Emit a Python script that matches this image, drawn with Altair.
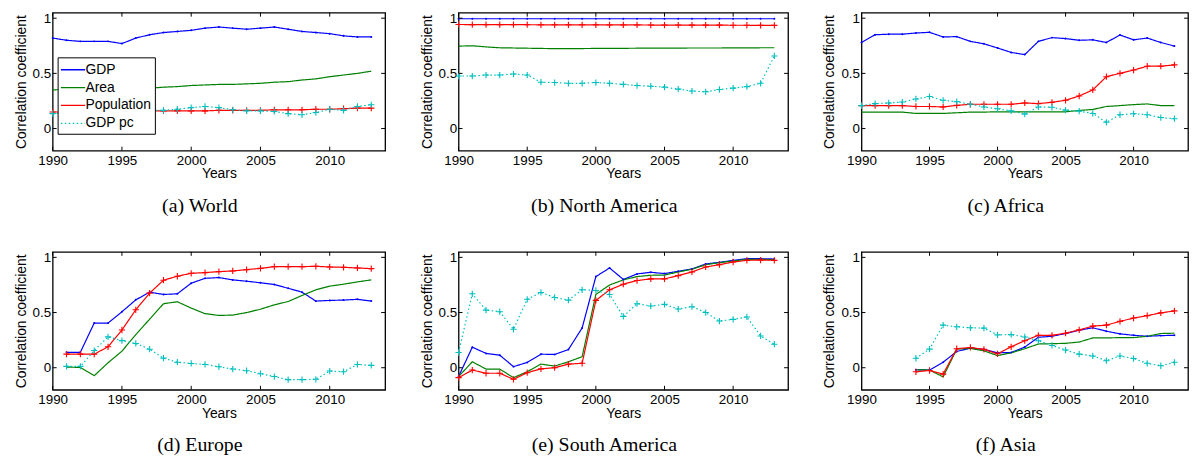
import altair as alt
import pandas as pd

# ---------------- data ----------------
series_names = ["GDP", "Area", "Population", "GDP pc"]
series_colors = ["#0000FF", "#008000", "#FF0000", "#00BFBF"]

years_full = list(range(1990, 2014))
years_europe = list(range(1991, 2014))
years_asia = list(range(1994, 2014))

world_gdp = [0.82, 0.80, 0.79, 0.79, 0.79, 0.77, 0.82, 0.85, 0.87, 0.88, 0.89, 0.91, 0.92, 0.91, 0.90, 0.91, 0.92, 0.90, 0.88, 0.87, 0.86, 0.84, 0.83, 0.83]
world_area = [0.35, 0.355, 0.355, 0.36, 0.36, 0.36, 0.365, 0.365, 0.375, 0.38, 0.39, 0.395, 0.40, 0.40, 0.405, 0.41, 0.42, 0.425, 0.44, 0.45, 0.47, 0.485, 0.50, 0.52]
world_pop = [0.15, 0.15, 0.15, 0.15, 0.155, 0.155, 0.155, 0.16, 0.16, 0.16, 0.16, 0.16, 0.165, 0.165, 0.165, 0.165, 0.17, 0.17, 0.17, 0.175, 0.175, 0.18, 0.185, 0.185]
world_gdppc = [0.135, 0.14, 0.15, 0.15, 0.16, 0.16, 0.16, 0.165, 0.165, 0.175, 0.19, 0.20, 0.19, 0.17, 0.16, 0.16, 0.155, 0.135, 0.125, 0.145, 0.175, 0.165, 0.20, 0.215]

na_gdp = [0.995, 0.995, 0.995, 0.995, 0.995, 0.995, 0.995, 0.995, 0.995, 0.995, 0.995, 0.995, 0.995, 0.995, 0.995, 0.995, 0.995, 0.995, 0.995, 0.995, 0.995, 0.995, 0.995, 0.995]
na_area = [0.747, 0.75, 0.74, 0.732, 0.73, 0.728, 0.726, 0.724, 0.724, 0.725, 0.726, 0.726, 0.727, 0.728, 0.728, 0.729, 0.729, 0.73, 0.73, 0.73, 0.731, 0.731, 0.732, 0.732]
na_pop = [0.943, 0.942, 0.942, 0.941, 0.941, 0.941, 0.94, 0.94, 0.94, 0.94, 0.94, 0.939, 0.939, 0.939, 0.938, 0.938, 0.938, 0.937, 0.937, 0.937, 0.936, 0.936, 0.935, 0.935]
na_gdppc = [0.476, 0.476, 0.485, 0.485, 0.494, 0.485, 0.42, 0.417, 0.41, 0.41, 0.417, 0.41, 0.40, 0.39, 0.384, 0.375, 0.357, 0.34, 0.333, 0.354, 0.366, 0.38, 0.41, 0.658]

af_gdp = [0.78, 0.85, 0.855, 0.855, 0.866, 0.872, 0.83, 0.833, 0.79, 0.768, 0.73, 0.69, 0.67, 0.79, 0.824, 0.815, 0.80, 0.804, 0.78, 0.848, 0.804, 0.82, 0.78, 0.747]
af_area = [0.149, 0.149, 0.149, 0.149, 0.137, 0.137, 0.137, 0.143, 0.149, 0.149, 0.152, 0.152, 0.152, 0.152, 0.152, 0.152, 0.164, 0.173, 0.20, 0.208, 0.217, 0.223, 0.208, 0.208]
af_pop = [0.208, 0.208, 0.208, 0.208, 0.20, 0.20, 0.196, 0.21, 0.22, 0.22, 0.22, 0.22, 0.232, 0.226, 0.238, 0.256, 0.295, 0.35, 0.47, 0.50, 0.53, 0.565, 0.565, 0.577]
af_gdppc = [0.208, 0.226, 0.232, 0.24, 0.268, 0.29, 0.256, 0.244, 0.22, 0.196, 0.179, 0.16, 0.131, 0.196, 0.193, 0.167, 0.158, 0.137, 0.057, 0.125, 0.134, 0.125, 0.10, 0.089]

eu_gdp = [0.14, 0.14, 0.405, 0.405, 0.507, 0.615, 0.685, 0.664, 0.67, 0.766, 0.81, 0.817, 0.796, 0.784, 0.77, 0.754, 0.72, 0.685, 0.604, 0.61, 0.613, 0.62, 0.604]
eu_area = [0.006, 0.003, -0.072, 0.045, 0.15, 0.30, 0.44, 0.58, 0.598, 0.54, 0.49, 0.474, 0.477, 0.50, 0.53, 0.57, 0.60, 0.655, 0.706, 0.739, 0.757, 0.778, 0.796]
eu_pop = [0.123, 0.123, 0.123, 0.19, 0.342, 0.525, 0.676, 0.793, 0.829, 0.856, 0.862, 0.871, 0.877, 0.889, 0.90, 0.916, 0.916, 0.916, 0.919, 0.913, 0.91, 0.904, 0.898]
eu_gdppc = [0.012, 0.012, 0.156, 0.28, 0.246, 0.22, 0.168, 0.087, 0.05, 0.039, 0.03, 0.009, -0.012, -0.027, -0.054, -0.08, -0.108, -0.108, -0.105, -0.03, -0.036, 0.03, 0.021]

sa_gdp = [-0.08, 0.186, 0.13, 0.114, 0.01, 0.048, 0.123, 0.12, 0.165, 0.36, 0.826, 0.904, 0.80, 0.85, 0.865, 0.853, 0.874, 0.895, 0.94, 0.955, 0.973, 0.988, 0.988, 0.985]
sa_area = [-0.08, 0.054, -0.012, -0.012, -0.09, -0.036, 0.033, 0.015, 0.054, 0.10, 0.664, 0.75, 0.796, 0.826, 0.838, 0.84, 0.868, 0.892, 0.934, 0.952, 0.967, 0.982, 0.982, 0.979]
sa_pop = [-0.09, -0.021, -0.05, -0.05, -0.105, -0.045, -0.01, 0.0, 0.033, 0.04, 0.61, 0.706, 0.757, 0.79, 0.805, 0.805, 0.835, 0.868, 0.913, 0.934, 0.958, 0.973, 0.976, 0.973]
sa_gdppc = [0.138, 0.67, 0.522, 0.508, 0.348, 0.62, 0.682, 0.637, 0.613, 0.706, 0.70, 0.664, 0.465, 0.58, 0.559, 0.574, 0.532, 0.553, 0.50, 0.423, 0.438, 0.46, 0.288, 0.213]

as_gdp = [-0.018, -0.021, 0.05, 0.147, 0.178, 0.166, 0.135, 0.138, 0.187, 0.276, 0.285, 0.31, 0.34, 0.362, 0.331, 0.307, 0.294, 0.285, 0.291, 0.294]
as_area = [-0.018, -0.021, -0.083, 0.169, 0.175, 0.153, 0.11, 0.135, 0.172, 0.215, 0.218, 0.221, 0.233, 0.27, 0.27, 0.273, 0.273, 0.285, 0.31, 0.313]
as_pop = [-0.037, -0.025, -0.058, 0.172, 0.184, 0.166, 0.126, 0.19, 0.245, 0.294, 0.294, 0.313, 0.343, 0.377, 0.386, 0.42, 0.45, 0.472, 0.497, 0.515]
as_gdppc = [0.086, 0.169, 0.386, 0.371, 0.362, 0.359, 0.298, 0.30, 0.279, 0.245, 0.202, 0.16, 0.123, 0.107, 0.064, 0.107, 0.083, 0.04, 0.018, 0.049]

captions = ["(a) World", "(b) North America", "(c) Africa",
            "(d) Europe", "(e) South America", "(f) Asia"]

x_ticks = [1990, 1995, 2000, 2005, 2010]
y_ticks = [0, 0.5, 1]
x_domain = [1990, 2014]
y_domain = [-0.2, 1.05]

PANEL_H = 139
FONT = "Liberation Sans"


def long_frame(years, gdp, area, pop, gdppc):
    rows = []
    for name, vals in zip(series_names, [gdp, area, pop, gdppc]):
        for yr, v in zip(years, vals):
            rows.append({"year": yr, "series": name, "value": v})
    return pd.DataFrame(rows)


def panel(df, caption, width, show_legend=False):
    xs = alt.Scale(domain=x_domain, nice=False, zero=False)
    ys = alt.Scale(domain=y_domain, nice=False, zero=False)
    x_axis = alt.Axis(values=x_ticks, format="d", title="Years", labelFlush=False)
    y_axis = alt.Axis(values=y_ticks, format="~g", title="Correlation coefficient")

    if show_legend:
        leg = alt.Legend(
            orient="none", legendX=5, legendY=45, title=None,
            fillColor="white", strokeColor="black", padding=3,
            symbolType="M-1.4,0H1.4", symbolSize=306, symbolStrokeWidth=1.3,
            symbolOffset=3,
            labelFont=FONT, labelFontSize=14, labelColor="black",
            labelOffset=3, rowPadding=1, labelLimit=200,
        )
    else:
        leg = None

    base = alt.Chart(df)
    lines = base.mark_line(strokeWidth=1.2).encode(
        x=alt.X("year:Q", scale=xs, axis=x_axis),
        y=alt.Y("value:Q", scale=ys, axis=y_axis),
        color=alt.Color("series:N", scale=alt.Scale(domain=series_names, range=series_colors),
                        sort=series_names, legend=leg),
        strokeDash=alt.StrokeDash("series:N",
                                  scale=alt.Scale(domain=series_names,
                                                  range=[[1, 0], [1, 0], [1, 0], [1.5, 2.5]]),
                                  sort=series_names, legend=leg),
    )

    plus = "M-1,0H1M0,-1V1"
    gdp_pts = base.transform_filter(alt.datum.series == "GDP").mark_point(
        filled=True, shape="circle", size=4, opacity=1).encode(
        x=alt.X("year:Q", scale=xs), y=alt.Y("value:Q", scale=ys),
        color=alt.value(series_colors[0]))
    pop_pts = base.transform_filter(alt.datum.series == "Population").mark_point(
        filled=False, shape=plus, size=40, strokeWidth=1.1, opacity=1).encode(
        x=alt.X("year:Q", scale=xs), y=alt.Y("value:Q", scale=ys),
        color=alt.value(series_colors[2]))
    pc_pts = base.transform_filter(alt.datum.series == "GDP pc").mark_point(
        filled=False, shape=plus, size=40, strokeWidth=1.1, opacity=1).encode(
        x=alt.X("year:Q", scale=xs), y=alt.Y("value:Q", scale=ys),
        color=alt.value(series_colors[3]))

    # inside tick marks (MATLAB style), on all four sides
    yt = alt.Chart(pd.DataFrame({"value": y_ticks}))
    xt = alt.Chart(pd.DataFrame({"year": x_ticks}))
    tl = yt.mark_rule(color="black", strokeWidth=1).encode(
        y=alt.Y("value:Q", scale=ys), x=alt.value(0), x2=alt.value(4))
    tr = yt.mark_rule(color="black", strokeWidth=1).encode(
        y=alt.Y("value:Q", scale=ys), x=alt.value(width - 4), x2=alt.value(width))
    tb = xt.mark_rule(color="black", strokeWidth=1).encode(
        x=alt.X("year:Q", scale=xs), y=alt.value(PANEL_H - 4), y2=alt.value(PANEL_H))
    tt = xt.mark_rule(color="black", strokeWidth=1).encode(
        x=alt.X("year:Q", scale=xs), y=alt.value(0), y2=alt.value(4))

    return alt.layer(lines, gdp_pts, pop_pts, pc_pts, tl, tr, tb, tt).properties(
        width=width, height=PANEL_H,
        title=alt.TitleParams(caption, orient="bottom", anchor="middle", frame="bounds",
                              font="Liberation Serif", fontSize=20, fontWeight="normal",
                              color="black", offset=15),
    )


pa = panel(long_frame(years_full, world_gdp, world_area, world_pop, world_gdppc), captions[0], 335, True)
pb = panel(long_frame(years_full, na_gdp, na_area, na_pop, na_gdppc), captions[1], 332)
pc = panel(long_frame(years_full, af_gdp, af_area, af_pop, af_gdppc), captions[2], 329)
pd_ = panel(long_frame(years_europe, eu_gdp, eu_area, eu_pop, eu_gdppc), captions[3], 335)
pe = panel(long_frame(years_full, sa_gdp, sa_area, sa_pop, sa_gdppc), captions[4], 332)
pf = panel(long_frame(years_asia, as_gdp, as_area, as_pop, as_gdppc), captions[5], 329)

row1 = alt.hconcat(pa, pb, pc, spacing=32).resolve_scale(color="independent", strokeDash="independent")
row2 = alt.hconcat(pd_, pe, pf, spacing=32).resolve_scale(color="independent", strokeDash="independent")

chart = alt.vconcat(row1, row2, spacing=32).resolve_scale(
    color="independent", strokeDash="independent"
).properties(
    padding={"left": 5, "top": 0, "right": 0, "bottom": 0},
    background="white",
).configure_view(
    stroke="black", strokeWidth=1.3
).configure_axis(
    grid=False, domain=False, tickSize=0,
    labelFont=FONT, labelFontSize=13.5, labelColor="black",
    titleFont=FONT, titleFontSize=14, titleFontWeight="normal", titleColor="black",
).configure_axisX(
    labelPadding=3, titlePadding=0
).configure_axisY(
    labelPadding=2, titlePadding=4
)

chart.save("out.html", embed_options={"renderer": "svg", "actions": False})
